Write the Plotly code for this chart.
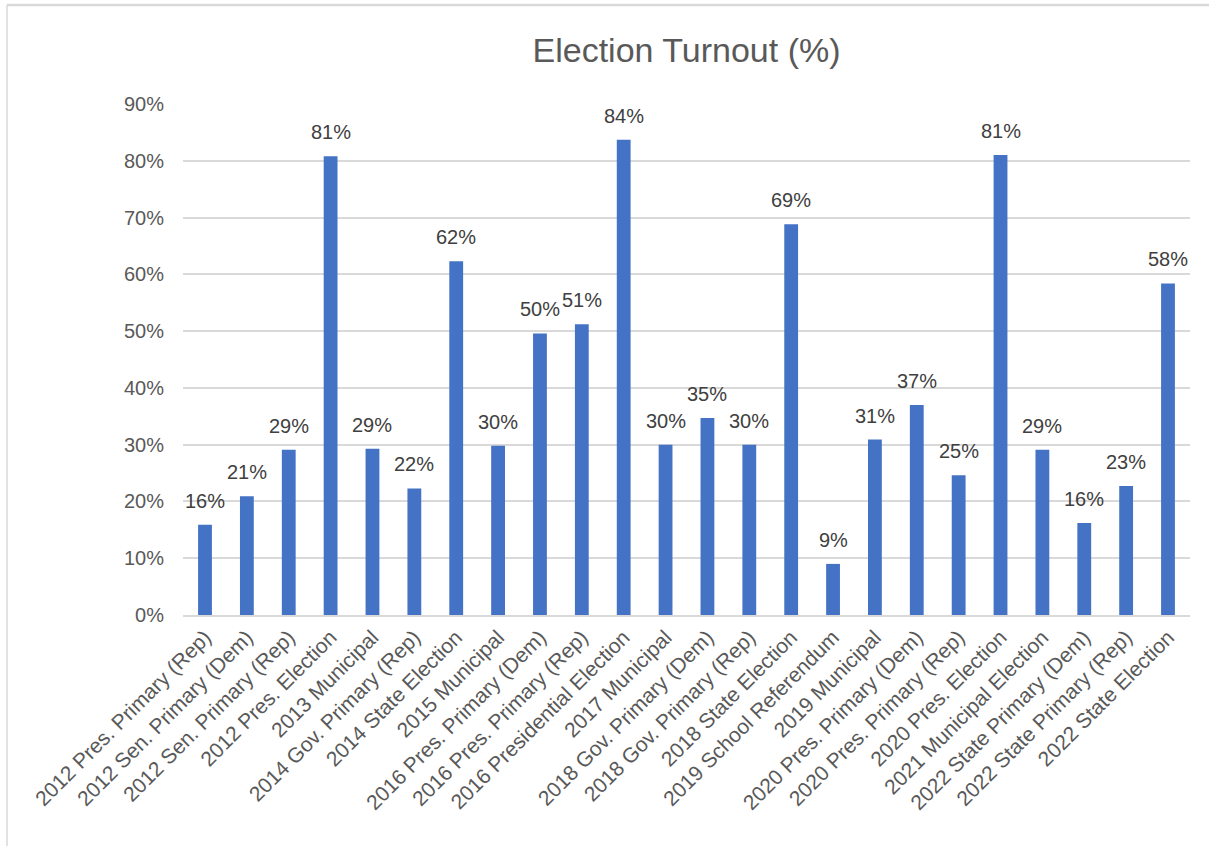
import plotly.graph_objects as go

categories = [
    "2012 Pres. Primary (Rep)", "2012 Sen. Primary (Dem)", "2012 Sen. Primary (Rep)",
    "2012 Pres. Election", "2013 Municipal", "2014 Gov. Primary (Rep)",
    "2014 State Election", "2015 Municipal", "2016 Pres. Primary (Dem)",
    "2016 Pres. Primary (Rep)", "2016 Presidential Election", "2017 Municipal",
    "2018 Gov. Primary (Dem)", "2018 Gov. Primary (Rep)", "2018 State Election",
    "2019 School Referendum", "2019 Municipal", "2020 Pres. Primary (Dem)",
    "2020 Pres. Primary (Rep)", "2020 Pres. Election", "2021 Municipal Election",
    "2022 State Primary (Dem)", "2022 State Primary (Rep)", "2022 State Election",
]
turnout = [
    15.9, 20.9, 29.1, 80.8, 29.3, 22.3, 62.3, 29.8, 49.6, 51.2, 83.7, 30.0,
    34.7, 30.0, 68.8, 9.0, 30.9, 37.0, 24.6, 81.0, 29.1, 16.2, 22.7, 58.4,
]
y_ticks = [0, 10, 20, 30, 40, 50, 60, 70, 80, 90]

FONT = "Liberation Sans"
W, H = 1209, 846
L, R, T, B = 183, 19, 104, 231
pw, ph = W - L - R, H - T - B

def px_x(x):
    return (x - L) / pw

def px_y(y):
    return (H - B - y) / ph

fig = go.Figure(
    go.Bar(
        x=categories,
        y=turnout,
        marker=dict(color="#4472C4", line=dict(width=0)),
        hoverinfo="skip",
    )
)

annotations = [
    dict(
        x=c, y=v, xref="x", yref="y",
        text=f"{round(v):d}%",
        showarrow=False,
        yanchor="bottom",
        xanchor="center",
        yshift=11,
        font=dict(family=FONT, size=20, color="#404040"),
    )
    for c, v in zip(categories, turnout)
]

fig.update_layout(
    width=W,
    height=H,
    margin=dict(l=L, r=R, t=T, b=B),
    paper_bgcolor="white",
    plot_bgcolor="white",
    bargap=0.67,
    showlegend=False,
    annotations=annotations,
    title=dict(
        text="Election Turnout (%)",
        x=0.5,
        xref="paper",
        xanchor="center",
        y=1 - 50 / H,
        yanchor="middle",
        font=dict(family=FONT, size=34, color="#595959"),
    ),
    xaxis=dict(
        tickangle=-45,
        tickfont=dict(family=FONT, size=21, color="#595959"),
        showgrid=False,
        showline=True,
        linecolor="#d9d9d9",
        linewidth=1.5,
        ticks="",
    ),
    yaxis=dict(
        range=[0, 90],
        tickvals=y_ticks,
        ticktext=[f"{v}%" for v in y_ticks],
        tickfont=dict(family=FONT, size=20, color="#595959"),
        showgrid=True,
        gridcolor="#d9d9d9",
        gridwidth=1.5,
        zeroline=False,
        showline=False,
        ticks="",
        ticklabelstandoff=18,
    ),
    shapes=[
        dict(type="line", xref="paper", yref="paper",
             x0=px_x(7), x1=px_x(1215), y0=px_y(5), y1=px_y(5),
             line=dict(color="#d9d9d9", width=2.5)),
        dict(type="line", xref="paper", yref="paper",
             x0=px_x(7), x1=px_x(7), y0=px_y(5), y1=px_y(850),
             line=dict(color="#d9d9d9", width=1.5)),
    ],
)

fig.write_html(
    "out.html",
    config={"displayModeBar": False},
    post_script="document.body.style.margin='0';document.body.style.padding='0';",
)
